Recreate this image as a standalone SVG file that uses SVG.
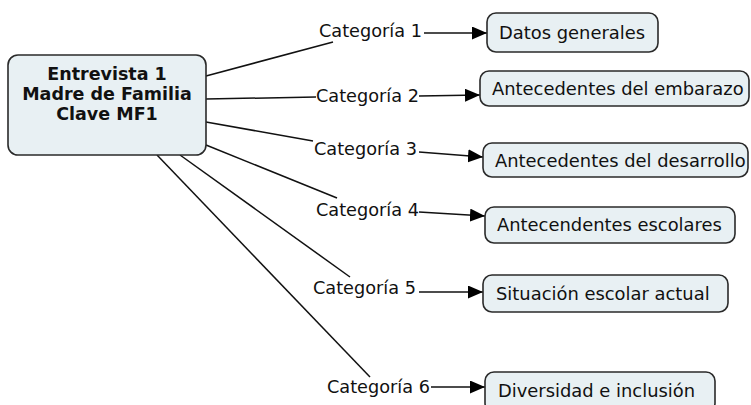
<svg xmlns="http://www.w3.org/2000/svg" width="751" height="405" viewBox="0 0 751 405">
  <style>
    .node rect { fill: #e8f0f3; stroke: #2a2a2a; stroke-width: 1.6; }
    .node text { font-family: "DejaVu Sans", Verdana, sans-serif; font-size: 17.9px; fill: #111; }
    .main text { font-weight: bold; font-size: 17.5px; text-anchor: middle; }
    .conn line { stroke: #111; stroke-width: 1.5; }
    .lbl { font-family: "DejaVu Sans", Verdana, sans-serif; font-size: 17.7px; fill: #111; }
  </style>
  <defs>
    <marker id="arrow" markerUnits="userSpaceOnUse" markerWidth="16" markerHeight="14" refX="15" refY="6.5" orient="auto">
      <path d="M0,0 L15,6.5 L0,13 z" fill="#000"/>
    </marker>
  </defs>
  <rect width="751" height="405" fill="#fff"/>

  <!-- connectors: main node to category labels, labels to topic nodes -->
  <g id="connectors" class="conn">
    <line x1="206" y1="76" x2="333" y2="42"/>
    <line x1="206" y1="99" x2="316" y2="97"/>
    <line x1="206" y1="122" x2="313" y2="141"/>
    <line x1="206" y1="145" x2="337" y2="198"/>
    <line x1="180" y1="155" x2="350" y2="277"/>
    <line x1="157" y1="155" x2="370" y2="377"/>

    <line x1="424" y1="33" x2="487" y2="33" marker-end="url(#arrow)"/>
    <line x1="419" y1="96" x2="480" y2="95" marker-end="url(#arrow)"/>
    <line x1="419" y1="152" x2="483" y2="157" marker-end="url(#arrow)"/>
    <line x1="419" y1="212" x2="485" y2="216" marker-end="url(#arrow)"/>
    <line x1="419" y1="292" x2="483" y2="292" marker-end="url(#arrow)"/>
    <line x1="431" y1="387" x2="485" y2="387" marker-end="url(#arrow)"/>
  </g>

  <!-- category labels on the links -->
  <g id="labels" class="lbl">
    <text x="319" y="37">Categoría 1</text>
    <text x="316" y="102">Categoría 2</text>
    <text x="314" y="155">Categoría 3</text>
    <text x="316" y="216">Categoría 4</text>
    <text x="313" y="294">Categoría 5</text>
    <text x="327" y="393">Categoría 6</text>
  </g>

  <g id="main" class="node main">
    <rect x="8" y="55" width="198" height="100" rx="10"/>
    <text x="107" y="80">Entrevista 1</text>
    <text x="107" y="100">Madre de Familia</text>
    <text x="107" y="120">Clave MF1</text>
  </g>

  <g id="datos-generales" class="node">
    <rect x="487" y="13" width="171" height="39" rx="9"/>
    <text x="499" y="39">Datos generales</text>
  </g>
  <g id="antecedentes-embarazo" class="node">
    <rect x="480" y="71" width="269" height="35" rx="9"/>
    <text x="492" y="95">Antecedentes del embarazo</text>
  </g>
  <g id="antecedentes-desarrollo" class="node">
    <rect x="483" y="143" width="265" height="34" rx="9"/>
    <text x="495" y="167">Antecedentes del desarrollo</text>
  </g>
  <g id="antecedentes-escolares" class="node">
    <rect x="485" y="207" width="250" height="36" rx="9"/>
    <text x="497" y="231">Antecendentes escolares</text>
  </g>
  <g id="situacion-escolar" class="node">
    <rect x="483" y="275" width="245" height="37" rx="9"/>
    <text x="496" y="300">Situación escolar actual</text>
  </g>
  <g id="diversidad-inclusion" class="node">
    <rect x="485" y="372" width="230" height="40" rx="9"/>
    <text x="498" y="397">Diversidad e inclusión</text>
  </g>
</svg>
